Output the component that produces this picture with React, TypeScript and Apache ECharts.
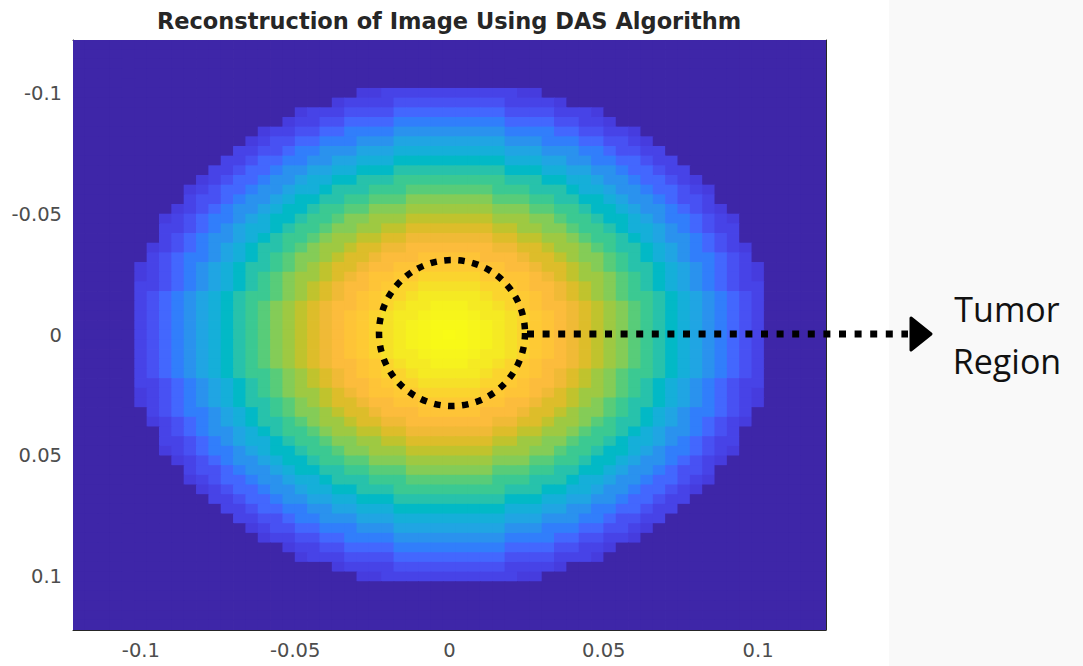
import { useEffect, useRef } from "react";
import * as echarts from "echarts";

// ---- data ----
const titleText = "Reconstruction of Image Using DAS Algorithm";
const gridCells = 61; // 61 x 61 image cells, step 0.004, centres from -0.12 to 0.12
const axisMin = -0.122;
const axisMax = 0.122;
const tickValues = [-0.1, -0.05, 0, 0.05, 0.1];
const tickLabels = ["-0.1", "-0.05", "0", "0.05", "0.1"];
// intensity (0..1) read along the centre row, by distance from the centre in cells
const radialProfile = [
  1.0, 0.995, 0.985, 0.975, 0.955, 0.93, 0.9, 0.875, 0.86, 0.835, 0.81, 0.78, 0.74,
  0.7, 0.67, 0.62, 0.58, 0.53, 0.47, 0.42, 0.38, 0.32, 0.26, 0.2, 0.14, 0.1, 0.08,
];
// half-width (in cells) of the lit disk for each row offset 0..25 from the centre row
const rowHalfWidths = [
  25, 25, 25, 25, 25, 25, 25, 25, 24, 24, 23, 23, 23, 22, 21, 21, 20, 19, 18, 17, 16, 15, 13, 12, 9, 7,
];
const annotationLines = ["Tumor", "Region"];

// MATLAB parula colormap (64 entries)
const parula: number[][] = [
  [0.2422, 0.1504, 0.6603], [0.2504, 0.165, 0.7076], [0.2578, 0.1818, 0.7511], [0.2647, 0.1978, 0.7952],
  [0.2706, 0.2147, 0.8364], [0.2751, 0.2342, 0.871], [0.2783, 0.2559, 0.8991], [0.2803, 0.2782, 0.9221],
  [0.2813, 0.3006, 0.9414], [0.281, 0.3228, 0.9579], [0.2795, 0.3447, 0.9717], [0.276, 0.3667, 0.9829],
  [0.2699, 0.3892, 0.9906], [0.2602, 0.4123, 0.9952], [0.244, 0.4358, 0.9988], [0.2206, 0.4603, 0.9973],
  [0.1963, 0.4847, 0.9892], [0.1834, 0.5074, 0.9798], [0.1786, 0.5289, 0.9682], [0.1764, 0.5499, 0.952],
  [0.1687, 0.5703, 0.9359], [0.154, 0.5902, 0.9218], [0.146, 0.6091, 0.9079], [0.138, 0.6276, 0.8973],
  [0.1248, 0.6459, 0.8883], [0.1113, 0.6635, 0.8763], [0.0952, 0.6798, 0.8598], [0.0689, 0.6948, 0.8394],
  [0.0297, 0.7082, 0.8163], [0.0036, 0.7203, 0.7917], [0.0067, 0.7312, 0.766], [0.0433, 0.7411, 0.7394],
  [0.0964, 0.75, 0.712], [0.1408, 0.7584, 0.6842], [0.1717, 0.767, 0.6554], [0.1938, 0.7758, 0.6251],
  [0.2161, 0.7843, 0.5923], [0.247, 0.7918, 0.5567], [0.2906, 0.7973, 0.5188], [0.3406, 0.8008, 0.4789],
  [0.3909, 0.8029, 0.4354], [0.4456, 0.8024, 0.3909], [0.5044, 0.7993, 0.348], [0.5616, 0.7942, 0.3045],
  [0.6174, 0.7876, 0.2612], [0.672, 0.7793, 0.2227], [0.7242, 0.7698, 0.191], [0.7738, 0.7598, 0.1646],
  [0.8203, 0.7498, 0.1535], [0.8634, 0.7406, 0.1596], [0.9035, 0.733, 0.1774], [0.9393, 0.7288, 0.21],
  [0.9728, 0.7298, 0.2394], [0.9956, 0.7434, 0.2371], [0.997, 0.7659, 0.2199], [0.9952, 0.7893, 0.2028],
  [0.9892, 0.8136, 0.1885], [0.9786, 0.8386, 0.1766], [0.9676, 0.8639, 0.1643], [0.961, 0.889, 0.1537],
  [0.9597, 0.9135, 0.1423], [0.9628, 0.9373, 0.1265], [0.9691, 0.9606, 0.1064], [0.9769, 0.9839, 0.0805],
];

const parulaColors = parula.map(
  ([r, g, b]) => `rgb(${Math.round(r * 255)},${Math.round(g * 255)},${Math.round(b * 255)})`
);

function buildCells(): number[][] {
  const centre = (gridCells - 1) / 2;
  const out: number[][] = [];
  for (let row = 0; row < gridCells; row++) {
    const k = Math.abs(row - centre);
    const hw = k < rowHalfWidths.length ? rowHalfWidths[k] : -1;
    for (let col = 0; col < gridCells; col++) {
      const i = Math.abs(col - centre);
      let v = 0;
      if (i <= hw) {
        const d = Math.round(Math.sqrt(i * i + k * k));
        v = radialProfile[Math.min(d, radialProfile.length - 1)];
      }
      out.push([col, row, v]);
    }
  }
  return out;
}

const labelFmt = (v: number) => {
  const idx = tickValues.findIndex((t) => Math.abs(t - v) < 1e-9);
  return idx >= 0 ? tickLabels[idx] : "";
};

export default function App() {
  const ref = useRef<HTMLDivElement>(null);
  useEffect(() => {
    if (!ref.current) return;
    const chart = echarts.init(ref.current, undefined, { renderer: "svg" });
    const cats = Array.from({ length: gridCells }, (_, i) => String(i));
    const axisColor = "#262626";
    const lineCommon = { show: true, onZero: false, lineStyle: { color: axisColor, width: 1 } };
    const tickCommon = {
      show: true,
      inside: true,
      length: 6,
      customValues: tickValues,
      lineStyle: { color: axisColor, width: 1 },
    };
    const labelCommon = {
      customValues: tickValues,
      formatter: labelFmt,
      color: "#4d4d4d",
      fontSize: 19.5,
      fontFamily: "DejaVu Sans",
    };
    const option: any = {
      animation: false,
      backgroundColor: "#ffffff",
      grid: { left: 73, top: 40, width: 753, height: 590 },
      xAxis: [
        { type: "category", data: cats, show: false, boundaryGap: true },
        {
          type: "value", min: axisMin, max: axisMax, position: "bottom",
          axisLine: lineCommon, axisTick: tickCommon,
          axisLabel: { ...labelCommon, margin: 10 }, splitLine: { show: false },
        },
        {
          type: "value", min: axisMin, max: axisMax, position: "top",
          axisLine: lineCommon, axisTick: tickCommon,
          axisLabel: { show: false }, splitLine: { show: false },
        },
      ],
      yAxis: [
        { type: "category", data: cats, show: false, inverse: true, boundaryGap: true },
        {
          type: "value", min: axisMin, max: axisMax, position: "left", inverse: true,
          axisLine: lineCommon, axisTick: tickCommon,
          axisLabel: { ...labelCommon, margin: 11 }, splitLine: { show: false },
        },
        {
          type: "value", min: axisMin, max: axisMax, position: "right", inverse: true,
          axisLine: lineCommon, axisTick: tickCommon,
          axisLabel: { show: false }, splitLine: { show: false },
        },
      ],
      visualMap: {
        type: "continuous", min: 0, max: 1, show: false, seriesIndex: 0, dimension: 2,
        inRange: { color: parulaColors },
      },
      series: [
        {
          type: "custom", xAxisIndex: 0, yAxisIndex: 0, data: buildCells(),
          encode: { x: 0, y: 1 }, clip: true, progressive: 0, silent: true,
          renderItem: (_params: any, api: any) => {
            const p = api.coord([api.value(0), api.value(1)]);
            const s = api.size([1, 1]);
            return {
              type: "rect",
              shape: { x: p[0] - s[0] / 2 - 0.4, y: p[1] - s[1] / 2 - 0.4, width: s[0] + 0.8, height: s[1] + 0.8 },
              style: { fill: api.visual("color") },
            };
          },
        },
      ],
      graphic: [
        { type: "rect", shape: { x: 889, y: 0, width: 194, height: 666 }, style: { fill: "#f9f9f9" }, z: 1 },
        {
          type: "text", x: 449, y: 21, z: 100,
          style: {
            text: titleText, font: 'bold 22.5px "DejaVu Sans"', fill: "#262626",
            textAlign: "center", textVerticalAlign: "middle",
          },
        },
        {
          type: "circle", z: 100, shape: { cx: 452, cy: 333, r: 73 },
          style: { fill: "none", stroke: "#000", lineWidth: 6.5, lineDash: [6.5, 7.5] },
        },
        {
          type: "line", z: 100, shape: { x1: 527, y1: 334, x2: 908, y2: 334 },
          style: { stroke: "#000", lineWidth: 7, lineDash: [7, 8.6] },
        },
        {
          type: "polygon", z: 100, shape: { points: [[911, 318], [931, 334], [911, 350]] },
          style: { fill: "#000", stroke: "#000", lineWidth: 3, lineJoin: "round" },
        },
        ...annotationLines.map((t, i) => ({
          type: "text", x: 1007, y: 309 + i * 52, z: 100,
          style: {
            text: t, font: '34px "Open Sans"', fill: "#111",
            textAlign: "center", textVerticalAlign: "middle",
          },
        })),
      ],
    };
    chart.setOption(option);
    return () => chart.dispose();
  }, []);
  return <div ref={ref} style={{ position: "fixed", left: 0, top: 0, width: 1083, height: 666 }} />;
}
